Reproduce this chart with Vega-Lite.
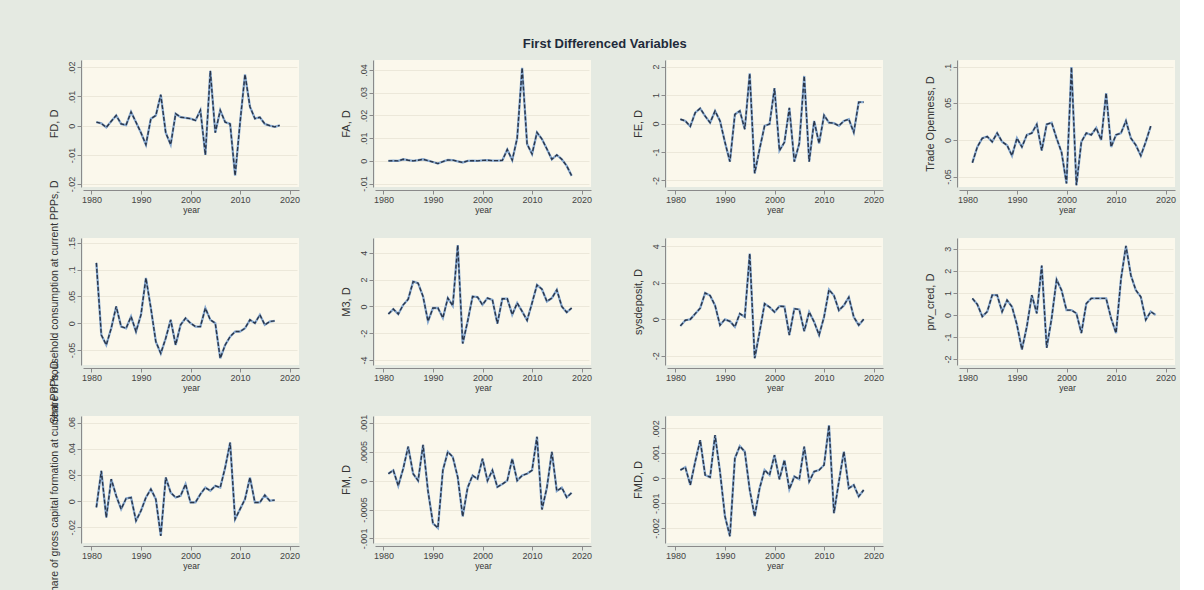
{
  "$schema": "https://vega.github.io/schema/vega-lite/v6.json",
  "background": "#e5eae2",
  "padding": {"left": 48, "top": 38, "right": 4, "bottom": 0},
  "title": {"text": "First Differenced Variables", "fontSize": 13, "font": "Liberation Sans", "fontWeight": "bold", "color": "#1e2a3a", "anchor": "middle", "offset": 9, "dx": -7},
  "columns": 4,
  "bounds": "flush",
  "spacing": {"row": 51, "column": 76},
  "datasets": {
    "FD": [
      {"year":1981,"v":0.0012},{"year":1982,"v":0.0008},{"year":1983,"v":-0.0006},{"year":1984,"v":0.0015},{"year":1985,"v":0.0035},{"year":1986,"v":0.0006},{"year":1987,"v":0.0002},{"year":1988,"v":0.0047},{"year":1989,"v":0.0012},{"year":1990,"v":-0.0024},{"year":1991,"v":-0.0065},{"year":1992,"v":0.0024},{"year":1993,"v":0.0035},{"year":1994,"v":0.0106},{"year":1995,"v":-0.0024},{"year":1996,"v":-0.0065},{"year":1997,"v":0.0041},{"year":1998,"v":0.0029},{"year":1999,"v":0.0027},{"year":2000,"v":0.0024},{"year":2001,"v":0.0018},{"year":2002,"v":0.0053},{"year":2003,"v":-0.0100},{"year":2004,"v":0.0188},{"year":2005,"v":-0.0024},{"year":2006,"v":0.0053},{"year":2007,"v":0.0012},{"year":2008,"v":0.0006},{"year":2009,"v":-0.0171},{"year":2010,"v":0.0010},{"year":2011,"v":0.0176},{"year":2012,"v":0.0065},{"year":2013,"v":0.0024},{"year":2014,"v":0.0029},{"year":2015,"v":0.0006},{"year":2016,"v":0.0000},{"year":2017,"v":-0.0004},{"year":2018,"v":0.0001}
    ],
    "FA": [
      {"year":1981,"v":0},{"year":1982,"v":0.0001},{"year":1983,"v":0},{"year":1984,"v":0.0007},{"year":1985,"v":0.0003},{"year":1986,"v":0},{"year":1987,"v":0.0003},{"year":1988,"v":0.0007},{"year":1989,"v":0.0001},{"year":1990,"v":-0.0005},{"year":1991,"v":-0.0012},{"year":1992,"v":-0.0003},{"year":1993,"v":0.0004},{"year":1994,"v":0.0003},{"year":1995,"v":-0.0002},{"year":1996,"v":-0.0007},{"year":1997,"v":0},{"year":1998,"v":0.0001},{"year":1999,"v":0},{"year":2000,"v":0.0002},{"year":2001,"v":0.0003},{"year":2002,"v":0.0001},{"year":2003,"v":0.0001},{"year":2004,"v":0.0002},{"year":2005,"v":0.005},{"year":2006,"v":0.0003},{"year":2007,"v":0.010},{"year":2008,"v":0.041},{"year":2009,"v":0.0074},{"year":2010,"v":0.003},{"year":2011,"v":0.0125},{"year":2012,"v":0.0096},{"year":2013,"v":0.0052},{"year":2014,"v":0.0007},{"year":2015,"v":0.0026},{"year":2016,"v":0.0007},{"year":2017,"v":-0.0022},{"year":2018,"v":-0.0066}
    ],
    "FE": [
      {"year":1981,"v":0.15},{"year":1982,"v":0.09},{"year":1983,"v":-0.1},{"year":1984,"v":0.38},{"year":1985,"v":0.53},{"year":1986,"v":0.26},{"year":1987,"v":0.03},{"year":1988,"v":0.44},{"year":1989,"v":0.09},{"year":1990,"v":-0.66},{"year":1991,"v":-1.34},{"year":1992,"v":0.32},{"year":1993,"v":0.44},{"year":1994,"v":-0.2},{"year":1995,"v":1.76},{"year":1996,"v":-1.75},{"year":1997,"v":-0.89},{"year":1998,"v":-0.08},{"year":1999,"v":-0.02},{"year":2000,"v":1.24},{"year":2001,"v":-0.95},{"year":2002,"v":-0.66},{"year":2003,"v":0.55},{"year":2004,"v":-1.34},{"year":2005,"v":-0.7},{"year":2006,"v":1.67},{"year":2007,"v":-1.34},{"year":2008,"v":0.09},{"year":2009,"v":-0.7},{"year":2010,"v":0.29},{"year":2011,"v":0.03},{"year":2012,"v":0.01},{"year":2013,"v":-0.08},{"year":2014,"v":0.09},{"year":2015,"v":0.15},{"year":2016,"v":-0.31},{"year":2017,"v":0.75},{"year":2018,"v":0.75}
    ],
    "TO": [
      {"year":1981,"v":-0.031},{"year":1982,"v":-0.0095},{"year":1983,"v":0.0024},{"year":1984,"v":0.0048},{"year":1985,"v":-0.0024},{"year":1986,"v":0.0095},{"year":1987,"v":-0.0024},{"year":1988,"v":-0.0071},{"year":1989,"v":-0.0214},{"year":1990,"v":0.0024},{"year":1991,"v":-0.0095},{"year":1992,"v":0.0071},{"year":1993,"v":0.0095},{"year":1994,"v":0.0214},{"year":1995,"v":-0.0143},{"year":1996,"v":0.0214},{"year":1997,"v":0.0238},{"year":1998,"v":0.0024},{"year":1999,"v":-0.0167},{"year":2000,"v":-0.0595},{"year":2001,"v":0.0997},{"year":2002,"v":-0.0619},{"year":2003,"v":-0.0024},{"year":2004,"v":0.0095},{"year":2005,"v":0.0071},{"year":2006,"v":0.0167},{"year":2007,"v":0},{"year":2008,"v":0.0643},{"year":2009,"v":-0.0095},{"year":2010,"v":0.0071},{"year":2011,"v":0.0095},{"year":2012,"v":0.0262},{"year":2013,"v":0.0024},{"year":2014,"v":-0.0071},{"year":2015,"v":-0.0214},{"year":2016,"v":-0.0024},{"year":2017,"v":0.019}
    ],
    "HC": [
      {"year":1981,"v":0.1125},{"year":1982,"v":-0.0219},{"year":1983,"v":-0.0406},{"year":1984,"v":-0.0094},{"year":1985,"v":0.0313},{"year":1986,"v":-0.0063},{"year":1987,"v":-0.0094},{"year":1988,"v":0.0125},{"year":1989,"v":-0.0156},{"year":1990,"v":0.0156},{"year":1991,"v":0.0844},{"year":1992,"v":0.0281},{"year":1993,"v":-0.0344},{"year":1994,"v":-0.0563},{"year":1995,"v":-0.0281},{"year":1996,"v":0.0063},{"year":1997,"v":-0.0406},{"year":1998,"v":-0.0031},{"year":1999,"v":0.0094},{"year":2000,"v":0},{"year":2001,"v":-0.0063},{"year":2002,"v":-0.0063},{"year":2003,"v":0.0281},{"year":2004,"v":0.0063},{"year":2005,"v":0},{"year":2006,"v":-0.0656},{"year":2007,"v":-0.0406},{"year":2008,"v":-0.025},{"year":2009,"v":-0.0156},{"year":2010,"v":-0.0156},{"year":2011,"v":-0.0094},{"year":2012,"v":0.0063},{"year":2013,"v":0},{"year":2014,"v":0.0156},{"year":2015,"v":-0.0031},{"year":2016,"v":0.0031},{"year":2017,"v":0.0044}
    ],
    "M3": [
      {"year":1981,"v":-0.57},{"year":1982,"v":-0.2},{"year":1983,"v":-0.57},{"year":1984,"v":0.12},{"year":1985,"v":0.54},{"year":1986,"v":1.85},{"year":1987,"v":1.73},{"year":1988,"v":0.74},{"year":1989,"v":-1.11},{"year":1990,"v":-0.12},{"year":1991,"v":-0.12},{"year":1992,"v":-0.86},{"year":1993,"v":0.62},{"year":1994,"v":0.05},{"year":1995,"v":4.57},{"year":1996,"v":-2.77},{"year":1997,"v":-1.11},{"year":1998,"v":0.74},{"year":1999,"v":0.69},{"year":2000,"v":0.12},{"year":2001,"v":0.62},{"year":2002,"v":0.49},{"year":2003,"v":-1.28},{"year":2004,"v":0.57},{"year":2005,"v":0.57},{"year":2006,"v":-0.62},{"year":2007,"v":0.25},{"year":2008,"v":-0.37},{"year":2009,"v":-1.04},{"year":2010,"v":0.25},{"year":2011,"v":1.6},{"year":2012,"v":1.28},{"year":2013,"v":0.37},{"year":2014,"v":0.62},{"year":2015,"v":1.23},{"year":2016,"v":0},{"year":2017,"v":-0.44},{"year":2018,"v":-0.12}
    ],
    "SD": [
      {"year":1981,"v":-0.36},{"year":1982,"v":-0.05},{"year":1983,"v":0},{"year":1984,"v":0.31},{"year":1985,"v":0.61},{"year":1986,"v":1.44},{"year":1987,"v":1.3},{"year":1988,"v":0.76},{"year":1989,"v":-0.32},{"year":1990,"v":0},{"year":1991,"v":-0.11},{"year":1992,"v":-0.41},{"year":1993,"v":0.31},{"year":1994,"v":0.13},{"year":1995,"v":3.6},{"year":1996,"v":-2.13},{"year":1997,"v":-0.68},{"year":1998,"v":0.85},{"year":1999,"v":0.67},{"year":2000,"v":0.4},{"year":2001,"v":0.72},{"year":2002,"v":0.7},{"year":2003,"v":-0.86},{"year":2004,"v":0.58},{"year":2005,"v":0.54},{"year":2006,"v":-0.65},{"year":2007,"v":0.4},{"year":2008,"v":-0.14},{"year":2009,"v":-0.86},{"year":2010,"v":0.13},{"year":2011,"v":1.62},{"year":2012,"v":1.3},{"year":2013,"v":0.49},{"year":2014,"v":0.76},{"year":2015,"v":1.21},{"year":2016,"v":0.13},{"year":2017,"v":-0.32},{"year":2018,"v":0}
    ],
    "PC": [
      {"year":1981,"v":0.75},{"year":1982,"v":0.48},{"year":1983,"v":-0.07},{"year":1984,"v":0.15},{"year":1985,"v":0.9},{"year":1986,"v":0.9},{"year":1987,"v":0.15},{"year":1988,"v":0.67},{"year":1989,"v":0.37},{"year":1990,"v":-0.45},{"year":1991,"v":-1.57},{"year":1992,"v":-0.52},{"year":1993,"v":0.9},{"year":1994,"v":0.07},{"year":1995,"v":2.24},{"year":1996,"v":-1.49},{"year":1997,"v":-0.15},{"year":1998,"v":1.6},{"year":1999,"v":1.12},{"year":2000,"v":0.22},{"year":2001,"v":0.22},{"year":2002,"v":0.07},{"year":2003,"v":-0.82},{"year":2004,"v":0.52},{"year":2005,"v":0.75},{"year":2006,"v":0.75},{"year":2007,"v":0.75},{"year":2008,"v":0.75},{"year":2009,"v":-0.15},{"year":2010,"v":-0.82},{"year":2011,"v":1.64},{"year":2012,"v":3.13},{"year":2013,"v":1.79},{"year":2014,"v":1.12},{"year":2015,"v":0.82},{"year":2016,"v":-0.22},{"year":2017,"v":0.15},{"year":2018,"v":0}
    ],
    "GC": [
      {"year":1981,"v":-0.0048},{"year":1982,"v":0.0232},{"year":1983,"v":-0.0125},{"year":1984,"v":0.0168},{"year":1985,"v":0.0041},{"year":1986,"v":-0.0061},{"year":1987,"v":0.002},{"year":1988,"v":0.0028},{"year":1989,"v":-0.015},{"year":1990,"v":-0.0074},{"year":1991,"v":0.0028},{"year":1992,"v":0.0092},{"year":1993,"v":0.0015},{"year":1994,"v":-0.0265},{"year":1995,"v":0.0181},{"year":1996,"v":0.0066},{"year":1997,"v":0.0028},{"year":1998,"v":0.0041},{"year":1999,"v":0.013},{"year":2000,"v":-0.001},{"year":2001,"v":-0.001},{"year":2002,"v":0.0054},{"year":2003,"v":0.0104},{"year":2004,"v":0.0079},{"year":2005,"v":0.0117},{"year":2006,"v":0.0104},{"year":2007,"v":0.0257},{"year":2008,"v":0.0448},{"year":2009,"v":-0.0138},{"year":2010,"v":-0.0061},{"year":2011,"v":0.0015},{"year":2012,"v":0.0181},{"year":2013,"v":-0.001},{"year":2014,"v":-0.001},{"year":2015,"v":0.0046},{"year":2016,"v":0.0003},{"year":2017,"v":0.0008}
    ],
    "FM": [
      {"year":1981,"v":0.00012},{"year":1982,"v":0.00018},{"year":1983,"v":-0.00009},{"year":1984,"v":0.00021},{"year":1985,"v":0.00059},{"year":1986,"v":0.00012},{"year":1987,"v":0},{"year":1988,"v":0.00062},{"year":1989,"v":-0.00018},{"year":1990,"v":-0.00074},{"year":1991,"v":-0.00082},{"year":1992,"v":0.00018},{"year":1993,"v":0.0005},{"year":1994,"v":0.00041},{"year":1995,"v":0.00006},{"year":1996,"v":-0.00062},{"year":1997,"v":-0.00012},{"year":1998,"v":0.00009},{"year":1999,"v":0.00003},{"year":2000,"v":0.00038},{"year":2001,"v":0},{"year":2002,"v":0.00018},{"year":2003,"v":-0.00011},{"year":2004,"v":-0.00006},{"year":2005,"v":0},{"year":2006,"v":0.00038},{"year":2007,"v":0},{"year":2008,"v":0.00009},{"year":2009,"v":0.00012},{"year":2010,"v":0.00018},{"year":2011,"v":0.00076},{"year":2012,"v":-0.0005},{"year":2013,"v":-0.00012},{"year":2014,"v":0.0005},{"year":2015,"v":-0.00018},{"year":2016,"v":-0.00012},{"year":2017,"v":-0.00029},{"year":2018,"v":-0.00021}
    ],
    "FMD": [
      {"year":1981,"v":0.00033},{"year":1982,"v":0.00044},{"year":1983,"v":-0.00027},{"year":1984,"v":0.00067},{"year":1985,"v":0.00153},{"year":1986,"v":0.00013},{"year":1987,"v":0.00004},{"year":1988,"v":0.00173},{"year":1989,"v":0.00027},{"year":1990,"v":-0.00153},{"year":1991,"v":-0.00233},{"year":1992,"v":0.0008},{"year":1993,"v":0.00129},{"year":1994,"v":0.00107},{"year":1995,"v":-0.00047},{"year":1996,"v":-0.00153},{"year":1997,"v":-0.0004},{"year":1998,"v":0.00033},{"year":1999,"v":0.00013},{"year":2000,"v":0.00093},{"year":2001,"v":-0.00004},{"year":2002,"v":0.00073},{"year":2003,"v":-0.00044},{"year":2004,"v":0.00007},{"year":2005,"v":-0.00004},{"year":2006,"v":0.00127},{"year":2007,"v":-0.00013},{"year":2008,"v":0.00027},{"year":2009,"v":0.00033},{"year":2010,"v":0.00053},{"year":2011,"v":0.00213},{"year":2012,"v":-0.0014},{"year":2013,"v":-0.00013},{"year":2014,"v":0.00107},{"year":2015,"v":-0.0004},{"year":2016,"v":-0.00027},{"year":2017,"v":-0.00073},{"year":2018,"v":-0.00047}
    ]
  },
  "concat": [
    {"width": 216, "height": 127, "data": {"name": "FD"},
     "layer": [{"mark": {"type": "line", "color": "#86a8cf", "strokeWidth": 2.3}}, {"mark": {"type": "line", "color": "#2a3548", "strokeWidth": 1.4, "strokeDash": [4, 2]}}],
     "encoding": {"x": {"field": "year", "type": "quantitative", "scale": {"domain": [1978.3, 2021.9], "nice": false, "zero": false}, "axis": {"values": [1980, 1990, 2000, 2010, 2020], "format": "d", "title": "year"}},
                  "y": {"field": "v", "type": "quantitative", "scale": {"domain": [-0.021, 0.0225], "nice": false, "zero": false}, "axis": {"values": [-0.02, -0.01, 0, 0.01, 0.02], "format": "~g", "title": "FD, D"}}}},
    {"width": 216, "height": 127, "data": {"name": "FA"},
     "layer": [{"mark": {"type": "line", "color": "#86a8cf", "strokeWidth": 2.3}}, {"mark": {"type": "line", "color": "#2a3548", "strokeWidth": 1.4, "strokeDash": [4, 2]}}],
     "encoding": {"x": {"field": "year", "type": "quantitative", "scale": {"domain": [1978.3, 2021.9], "nice": false, "zero": false}, "axis": {"values": [1980, 1990, 2000, 2010, 2020], "format": "d", "title": "year"}},
                  "y": {"field": "v", "type": "quantitative", "scale": {"domain": [-0.0115, 0.0444], "nice": false, "zero": false}, "axis": {"values": [-0.01, 0, 0.01, 0.02, 0.03, 0.04], "format": "~g", "title": "FA, D"}}}},
    {"width": 216, "height": 127, "data": {"name": "FE"},
     "layer": [{"mark": {"type": "line", "color": "#86a8cf", "strokeWidth": 2.3}}, {"mark": {"type": "line", "color": "#2a3548", "strokeWidth": 1.4, "strokeDash": [4, 2]}}],
     "encoding": {"x": {"field": "year", "type": "quantitative", "scale": {"domain": [1978.3, 2021.9], "nice": false, "zero": false}, "axis": {"values": [1980, 1990, 2000, 2010, 2020], "format": "d", "title": "year"}},
                  "y": {"field": "v", "type": "quantitative", "scale": {"domain": [-2.23, 2.23], "nice": false, "zero": false}, "axis": {"values": [-2, -1, 0, 1, 2], "format": "~g", "title": "FE, D"}}}},
    {"width": 216, "height": 127, "data": {"name": "TO"},
     "layer": [{"mark": {"type": "line", "color": "#86a8cf", "strokeWidth": 2.3}}, {"mark": {"type": "line", "color": "#2a3548", "strokeWidth": 1.4, "strokeDash": [4, 2]}}],
     "encoding": {"x": {"field": "year", "type": "quantitative", "scale": {"domain": [1978.3, 2021.9], "nice": false, "zero": false}, "axis": {"values": [1980, 1990, 2000, 2010, 2020], "format": "d", "title": "year"}},
                  "y": {"field": "v", "type": "quantitative", "scale": {"domain": [-0.0643, 0.1095], "nice": false, "zero": false}, "axis": {"values": [-0.05, 0, 0.05, 0.1], "format": "~g", "title": "Trade Openness, D"}}}},
    {"width": 216, "height": 127, "data": {"name": "HC"},
     "layer": [{"mark": {"type": "line", "color": "#86a8cf", "strokeWidth": 2.3}}, {"mark": {"type": "line", "color": "#2a3548", "strokeWidth": 1.4, "strokeDash": [4, 2]}}],
     "encoding": {"x": {"field": "year", "type": "quantitative", "scale": {"domain": [1978.3, 2021.9], "nice": false, "zero": false}, "axis": {"values": [1980, 1990, 2000, 2010, 2020], "format": "d", "title": "year"}},
                  "y": {"field": "v", "type": "quantitative", "scale": {"domain": [-0.078, 0.159], "nice": false, "zero": false}, "axis": {"values": [-0.05, 0, 0.05, 0.1, 0.15], "format": "~g", "title": "Share of household consumption at current PPPs, D", "titleFontSize": 10.5}}}},
    {"width": 216, "height": 127, "data": {"name": "M3"},
     "layer": [{"mark": {"type": "line", "color": "#86a8cf", "strokeWidth": 2.3}}, {"mark": {"type": "line", "color": "#2a3548", "strokeWidth": 1.4, "strokeDash": [4, 2]}}],
     "encoding": {"x": {"field": "year", "type": "quantitative", "scale": {"domain": [1978.3, 2021.9], "nice": false, "zero": false}, "axis": {"values": [1980, 1990, 2000, 2010, 2020], "format": "d", "title": "year"}},
                  "y": {"field": "v", "type": "quantitative", "scale": {"domain": [-4.37, 5.1], "nice": false, "zero": false}, "axis": {"values": [-4, -2, 0, 2, 4], "format": "~g", "title": "M3, D"}}}},
    {"width": 216, "height": 127, "data": {"name": "SD"},
     "layer": [{"mark": {"type": "line", "color": "#86a8cf", "strokeWidth": 2.3}}, {"mark": {"type": "line", "color": "#2a3548", "strokeWidth": 1.4, "strokeDash": [4, 2]}}],
     "encoding": {"x": {"field": "year", "type": "quantitative", "scale": {"domain": [1978.3, 2021.9], "nice": false, "zero": false}, "axis": {"values": [1980, 1990, 2000, 2010, 2020], "format": "d", "title": "year"}},
                  "y": {"field": "v", "type": "quantitative", "scale": {"domain": [-2.5, 4.45], "nice": false, "zero": false}, "axis": {"values": [-2, 0, 2, 4], "format": "~g", "title": "sysdeposit, D"}}}},
    {"width": 216, "height": 127, "data": {"name": "PC"},
     "layer": [{"mark": {"type": "line", "color": "#86a8cf", "strokeWidth": 2.3}}, {"mark": {"type": "line", "color": "#2a3548", "strokeWidth": 1.4, "strokeDash": [4, 2]}}],
     "encoding": {"x": {"field": "year", "type": "quantitative", "scale": {"domain": [1978.3, 2021.9], "nice": false, "zero": false}, "axis": {"values": [1980, 1990, 2000, 2010, 2020], "format": "d", "title": "year"}},
                  "y": {"field": "v", "type": "quantitative", "scale": {"domain": [-2.27, 3.49], "nice": false, "zero": false}, "axis": {"values": [-2, -1, 0, 1, 2, 3], "format": "~g", "title": "prv_cred, D"}}}},
    {"width": 216, "height": 127, "data": {"name": "GC"},
     "layer": [{"mark": {"type": "line", "color": "#86a8cf", "strokeWidth": 2.3}}, {"mark": {"type": "line", "color": "#2a3548", "strokeWidth": 1.4, "strokeDash": [4, 2]}}],
     "encoding": {"x": {"field": "year", "type": "quantitative", "scale": {"domain": [1978.3, 2021.9], "nice": false, "zero": false}, "axis": {"values": [1980, 1990, 2000, 2010, 2020], "format": "d", "title": "year"}},
                  "y": {"field": "v", "type": "quantitative", "scale": {"domain": [-0.032, 0.0651], "nice": false, "zero": false}, "axis": {"values": [-0.02, 0, 0.02, 0.04, 0.06], "format": "~g", "title": "Share of gross capital formation at current PPPs, D", "titleFontSize": 10.5}}}},
    {"width": 216, "height": 127, "data": {"name": "FM"},
     "layer": [{"mark": {"type": "line", "color": "#86a8cf", "strokeWidth": 2.3}}, {"mark": {"type": "line", "color": "#2a3548", "strokeWidth": 1.4, "strokeDash": [4, 2]}}],
     "encoding": {"x": {"field": "year", "type": "quantitative", "scale": {"domain": [1978.3, 2021.9], "nice": false, "zero": false}, "axis": {"values": [1980, 1990, 2000, 2010, 2020], "format": "d", "title": "year"}},
                  "y": {"field": "v", "type": "quantitative", "scale": {"domain": [-0.00108, 0.00112], "nice": false, "zero": false}, "axis": {"values": [-0.001, -0.0005, 0, 0.0005, 0.001], "format": "~g", "title": "FM, D"}}}},
    {"width": 216, "height": 127, "data": {"name": "FMD"},
     "layer": [{"mark": {"type": "line", "color": "#86a8cf", "strokeWidth": 2.3}}, {"mark": {"type": "line", "color": "#2a3548", "strokeWidth": 1.4, "strokeDash": [4, 2]}}],
     "encoding": {"x": {"field": "year", "type": "quantitative", "scale": {"domain": [1978.3, 2021.9], "nice": false, "zero": false}, "axis": {"values": [1980, 1990, 2000, 2010, 2020], "format": "d", "title": "year"}},
                  "y": {"field": "v", "type": "quantitative", "scale": {"domain": [-0.0026, 0.0025], "nice": false, "zero": false}, "axis": {"values": [-0.002, -0.001, 0, 0.001, 0.002], "format": "~g", "title": "FMD, D"}}}}
  ],
  "config": {
    "view": {"fill": "#fbf8ec", "stroke": null},
    "font": "Liberation Sans",
    "axis": {"domainColor": "#8a8a8a", "tickColor": "#8a8a8a", "labelColor": "#444444", "labelFont": "Liberation Sans", "titleFont": "Liberation Sans", "labelFontSize": 9, "titleFontSize": 11, "titleFontWeight": "normal", "titleColor": "#333333", "gridColor": "#ece8da", "tickSize": 4, "labelFlush": false, "labelOverlap": false},
    "axisX": {"offset": 3, "grid": false, "labelPadding": 1, "titleFontSize": 8.5, "titlePadding": 1},
    "axisY": {"offset": 2, "grid": true, "labelAngle": -90, "labelAlign": "center", "labelBaseline": "bottom", "labelPadding": 1, "titlePadding": 8, "labelExpr": "replace(replace(datum.label, '\u2212', '-'), regexp('^(-?)0[.]'), '$1.')"}
  }
}
